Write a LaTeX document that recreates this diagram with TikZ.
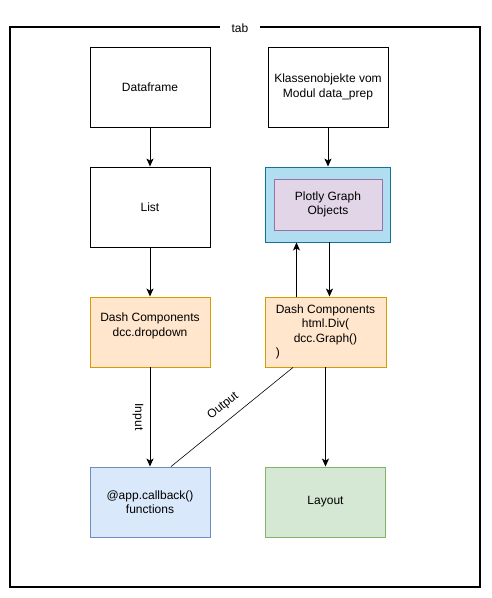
\documentclass[tikz,border=0pt]{standalone}
\usepackage{fontspec}
\setmainfont{Liberation Sans}
\usetikzlibrary{arrows.meta}
\definecolor{orfill}{HTML}{FFE6CC}
\definecolor{ordraw}{HTML}{D79B00}
\definecolor{blfill}{HTML}{DAE8FC}
\definecolor{bldraw}{HTML}{6C8EBF}
\definecolor{grfill}{HTML}{D5E8D4}
\definecolor{grdraw}{HTML}{82B366}
\definecolor{pufill}{HTML}{E1D5E7}
\definecolor{pudraw}{HTML}{9673A6}
\definecolor{skyfill}{HTML}{B1DDF0}
\definecolor{skydraw}{HTML}{10739E}
\tikzset{
  box/.style={draw, line width=0.9pt, minimum width=120pt, minimum height=80pt, align=center, font=\fontsize{12}{14.5}\selectfont, inner sep=0pt},
  lowbox/.style={box, minimum height=70pt},
  flow/.style={line width=0.9pt, -{Stealth[length=8pt,width=7pt,inset=2pt]}}
}
\begin{document}
\begin{tikzpicture}[x=1pt, y=-1pt]
		\useasboundingbox (0,0) rectangle (491,598);
		% outer frame
		\draw[line width=1.3pt] (10,27) rectangle (480,587);
		\node[fill=white, inner xsep=12pt, inner ysep=2pt, font=\fontsize{12}{14}\selectfont] (tab) at (240,28) {tab};
		
		% left column
		\node[box] (df) at (150,87) {Dataframe};
		\node[box] (lst) at (150,207) {List};
		\node[lowbox, fill=orfill, draw=ordraw] (ddn) at (150,332) {Dash Components\\dcc.dropdown\\~};
		\node[lowbox, fill=blfill, draw=bldraw] (cb) at (150,502) {@app.callback()\\functions};
		
		% right column
		\node[box] (cls) at (328,87) {Klassenobjekte vom\\Modul data\_prep};
		\node[box, minimum width=125pt, minimum height=75pt, fill=skyfill, draw=skydraw] (pgo) at (327.5,204.5) {};
		\node[box, minimum width=108pt, minimum height=51pt, fill=pufill, draw=pudraw] (plt) at (328,204.5) {Plotly Graph\\Objects};
		\node[lowbox, minimum width=121pt, fill=orfill, draw=ordraw] (gph) at (325.5,332)
			{\begin{tabular}{@{}c@{}}Dash Components\\html.Div(\\dcc.Graph()\\\multicolumn{1}{@{}l@{}}{)}\end{tabular}};
		\node[lowbox, fill=grfill, draw=grdraw] (lay) at (325.5,502) {Layout};
		
		% connectors
		\draw[flow] (df) -- (lst);
		\draw[flow] (lst) -- (ddn);
		\draw[flow] (ddn) -- (cb);
		\node[rotate=-90, font=\fontsize{12}{14}\selectfont] (inp) at (138,417) {Input};
		\draw[flow] (cls.south) -- (cls.south |- pgo.north);
		\draw[flow] ([xshift=2pt]pgo.south) -- ([xshift=2pt]pgo.south |- gph.north);
		\draw[flow] ([xshift=-29pt]gph.north) -- ([xshift=-29pt]gph.north |- pgo.south);
		\draw[flow] (gph) -- (lay);
		\draw[line width=0.6pt] ([xshift=-32.5pt]gph.south) -- node[pos=0.5, sloped, above=5pt, font=\fontsize{12}{14}\selectfont] (out) {Output} ([xshift=21pt]cb.north);
\end{tikzpicture}
\end{document}
